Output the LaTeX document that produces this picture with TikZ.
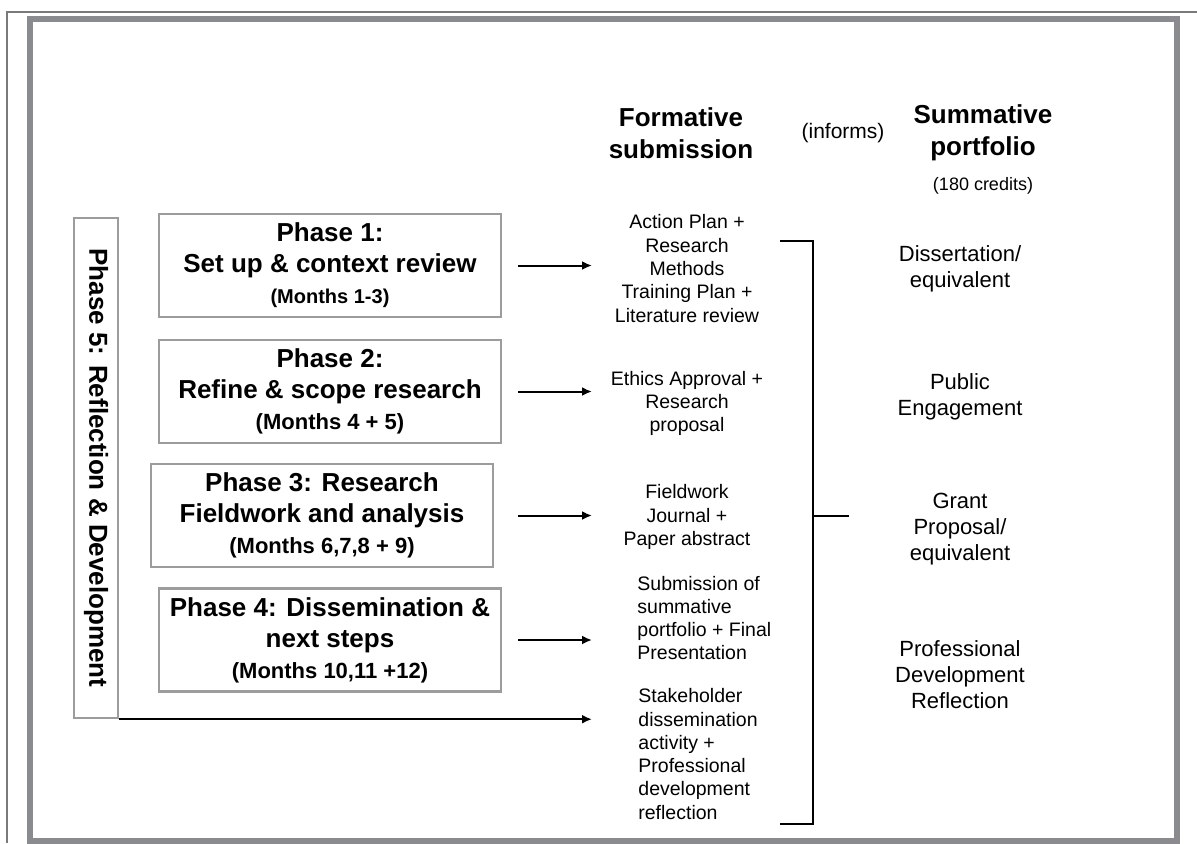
\documentclass[tikz,border=0pt]{standalone}
\usepackage{fontspec}
\setmainfont{Liberation Sans}
\usetikzlibrary{arrows.meta}
\definecolor{framegray}{HTML}{898B8F}
\definecolor{boxgray}{HTML}{9C9C9C}
\definecolor{edgegray}{HTML}{7A7A7A}
\newcommand\monthline{\fontsize{11}{13}\selectfont}
\tikzset{
  phasebox/.style={draw=boxgray, line width=1.2pt, minimum width=171pt,
    minimum height=51.5pt, align=center, inner sep=0pt,
    font=\fontsize{13}{15.5}\selectfont\bfseries},
  flow/.style={-{Latex[length=5pt,width=4.5pt]}, line width=1pt},
  bracket/.style={line width=1pt},
  formtext/.style={inner sep=0pt, font=\fontsize{9.75}{11.65}\selectfont},
  sumtext/.style={inner sep=0pt, align=center, font=\fontsize{11}{13}\selectfont},
  headtext/.style={inner sep=0pt, align=center, font=\fontsize{13}{16}\selectfont\bfseries},
}
\begin{document}
\begin{tikzpicture}[x=0.5pt, y=-0.5pt]
\useasboundingbox (0,0) rectangle (1197,843);
% page edges and frame
\draw[edgegray, line width=0.75pt] (7,843) -- (7,12) -- (1197,12);
\draw[edgegray, line width=1.3pt] (1185,12) -- (1197,12);
\draw[framegray, line width=3pt] (30,19) rectangle (1176.5,840.5);

% phases
\node[phasebox] (p1) at (330,265.5) {Phase 1:\\Set up \& context review\\{\fontsize{10}{12}\selectfont (Months 1-3)}};
\node[phasebox] (p2) at (330,391.5) {Phase 2:\\Refine \& scope research\\{\monthline (Months 4 + 5)}};
\node[phasebox] (p3) at (322,515.5) {Phase 3: Research\\Fieldwork and analysis\\{\monthline (Months 6,7,8 + 9)}};
\node[phasebox] (p4) at (330,640) {Phase 4: Dissemination \&\\next steps\\{\monthline (Months 10,11 +12)}};
\node[phasebox, rotate=-90, minimum width=250pt, minimum height=22pt] (p5) at (96,468) {Phase 5: Reflection \& Development};

% headings
\node[headtext] (form) at (681,133) {Formative\\submission};
\node[inner sep=0pt, font=\fontsize{10.5}{12}\selectfont] (informs) at (843,133) {(informs)};
\node[headtext] (summ) at (983,133) {Summative\\portfolio};
\node[inner sep=0pt, font=\fontsize{9}{11}\selectfont] (credits) at (983,186) {(180 credits)};

% formative submissions
\node[formtext, align=center] (f1) at (687,268.5) {Action Plan +\\Research\\Methods\\Training Plan +\\Literature review};
\node[formtext, align=center] (f2) at (687,403.5) {Ethics Approval +\\Research\\proposal};
\node[formtext, align=center] (f3) at (687,517) {Fieldwork\\Journal +\\Paper abstract};
\node[formtext, align=left, anchor=west] (f4) at (637,618) {Submission of\\summative\\portfolio + Final\\Presentation};
\node[formtext, align=left, anchor=west] (f5) at (638,754) {Stakeholder\\dissemination\\activity +\\Professional\\development\\reflection};

% summative portfolio
\node[sumtext] (s1) at (960,268.5) {Dissertation/\\equivalent};
\node[sumtext] (s2) at (960,396.5) {Public\\Engagement};
\node[sumtext] (s3) at (960,529) {Grant\\Proposal/\\equivalent};
\node[sumtext] (s4) at (960,675) {Professional\\Development\\Reflection};

% arrows
\coordinate (tail) at (518,0);
\coordinate (tip) at (592,0);
\foreach \p in {p1,p2,p3,p4}
  \draw[flow] (\p -| tail) -- (\p -| tip);
\draw[flow] (p5.north east) -- (p5.north east -| tip);

% bracket
\coordinate (bt) at (780,241);
\coordinate (bb) at (780,824);
\coordinate (bm) at (849,516);
\draw[bracket] (bt) -- ++(33,0) |- (bb);
\draw[bracket] (bm) -- ++(-36,0);
\end{tikzpicture}
\end{document}
